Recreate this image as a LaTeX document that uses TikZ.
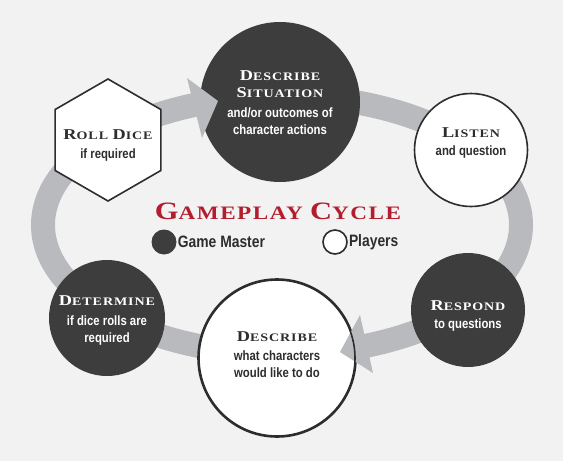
\documentclass[tikz,border=0pt]{standalone}
\usepackage{fontspec}
\setmainfont{Liberation Serif}
\newfontfamily\capsfont[LetterSpace=8,FakeStretch=1.22]{Liberation Serif}
\newfontfamily\condfont[FakeStretch=0.84]{Liberation Sans}
\usetikzlibrary{shapes.geometric}
\definecolor{bgc}{RGB}{242,242,242}
\definecolor{ringc}{RGB}{185,186,189}
\definecolor{darkc}{RGB}{61,61,61}
\definecolor{linec}{RGB}{45,45,45}
\definecolor{titlec}{RGB}{178,30,45}
\newcommand{\hd}[2]{{\capsfont\bfseries\fontsize{15}{15}\selectfont #1\fontsize{11.5}{11.5}\selectfont #2}}
\newcommand{\hdsp}{{\capsfont\fontsize{11.5}{11.5}\selectfont\ }}
\newcommand{\subtx}[1]{{\condfont\bfseries\fontsize{13.5}{13.5}\selectfont #1}}
\tikzset{
  gm/.style={circle, fill=darkc, inner sep=0pt},
  pl/.style={circle, fill=white, draw=linec, line width=1.6pt, inner sep=0pt},
  gmtext/.style={text=white, inner sep=0pt, align=center, font=\fontsize{13}{17}\selectfont},
  pltext/.style={text=linec, inner sep=0pt, align=center, font=\fontsize{13}{17}\selectfont},
  hexa/.style={regular polygon, regular polygon sides=6, shape border rotate=30,
    fill=white, draw=linec, line width=1.6pt, inner sep=0pt, minimum size=122pt},
  ring/.style={draw=ringc, line width=24pt},
  tip/.style={fill=ringc},
  legtext/.style={text=linec, inner sep=1pt, anchor=west,
    font=\condfont\bfseries\fontsize{16.5}{16.5}\selectfont}
}
\begin{document}
\begin{tikzpicture}[x=1pt, y=-1pt]
\fill[bgc] (0,0) rectangle (563,461);
\useasboundingbox (0,0) rectangle (563,461);
% cycle ring
\draw[ring] (282,225) ellipse [x radius=239, y radius=129];
% shapes
\node[gm, minimum size=160pt] (sit) at (280,102) {};
\node[pl, minimum size=113pt] (lis) at (471,150) {};
\node[gm, minimum size=114pt] (res) at (468,310) {};
\node[pl, minimum size=158pt] (des) at (277,358) {};
\node[gm, minimum size=116pt] (det) at (107,318) {};
\node[hexa] (roll) at (108,140) {};
% texts
\node[gmtext] (sittxt) at (280,103)
  {\hd{D}{ESCRIBE}\\ \hd{S}{ITUATION}\\[3pt] \subtx{and/or outcomes of}\\ \subtx{character actions}};
\node[pltext] (listxt) at (471,143)
  {\hd{L}{ISTEN}\\[1pt] \subtx{and question}};
\node[gmtext] (restxt) at (468,316)
  {\hd{R}{ESPOND}\\[1pt] \subtx{to questions}};
\node[pltext] (destxt) at (277,355)
  {\hd{D}{ESCRIBE}\\[2pt] \subtx{what characters}\\ \subtx{would like to do}};
\node[gmtext] (dettxt) at (107,320)
  {\hd{D}{ETERMINE}\\[3pt] \subtx{if dice rolls are}\\ \subtx{required}};
\node[pltext] (rolltxt) at (108,145)
  {\hd{R}{OLL}\hdsp\hd{D}{ICE}\\[2pt] \subtx{if required}};
% arrow heads
\fill[tip] (218,101) -- (187,78) -- (202,138) -- cycle;
\fill[tip] (340,352) -- (360,315) -- (373,373) -- cycle;
\draw[draw=linec, line width=1.6pt] (des.center) circle [radius=78];
% title and legend
\node[text=titlec, inner sep=0pt] (title) at (278,211)
  {\capsfont\bfseries\fontsize{25}{25}\selectfont G\fontsize{19}{19}\selectfont AMEPLAY \fontsize{25}{25}\selectfont C\fontsize{19}{19}\selectfont YCLE};
\node[circle, fill=darkc, minimum size=25pt, inner sep=0pt] (gmdot) at (164,242) {};
\node[legtext] (gmtxt) at (gmdot.east) {Game Master};
\node[circle, fill=white, draw=linec, line width=1.6pt, minimum size=24pt, inner sep=0pt] (pldot) at (335,242) {};
\node[legtext] (pltxt) at (pldot.east) {Players};
\end{tikzpicture}
\end{document}
